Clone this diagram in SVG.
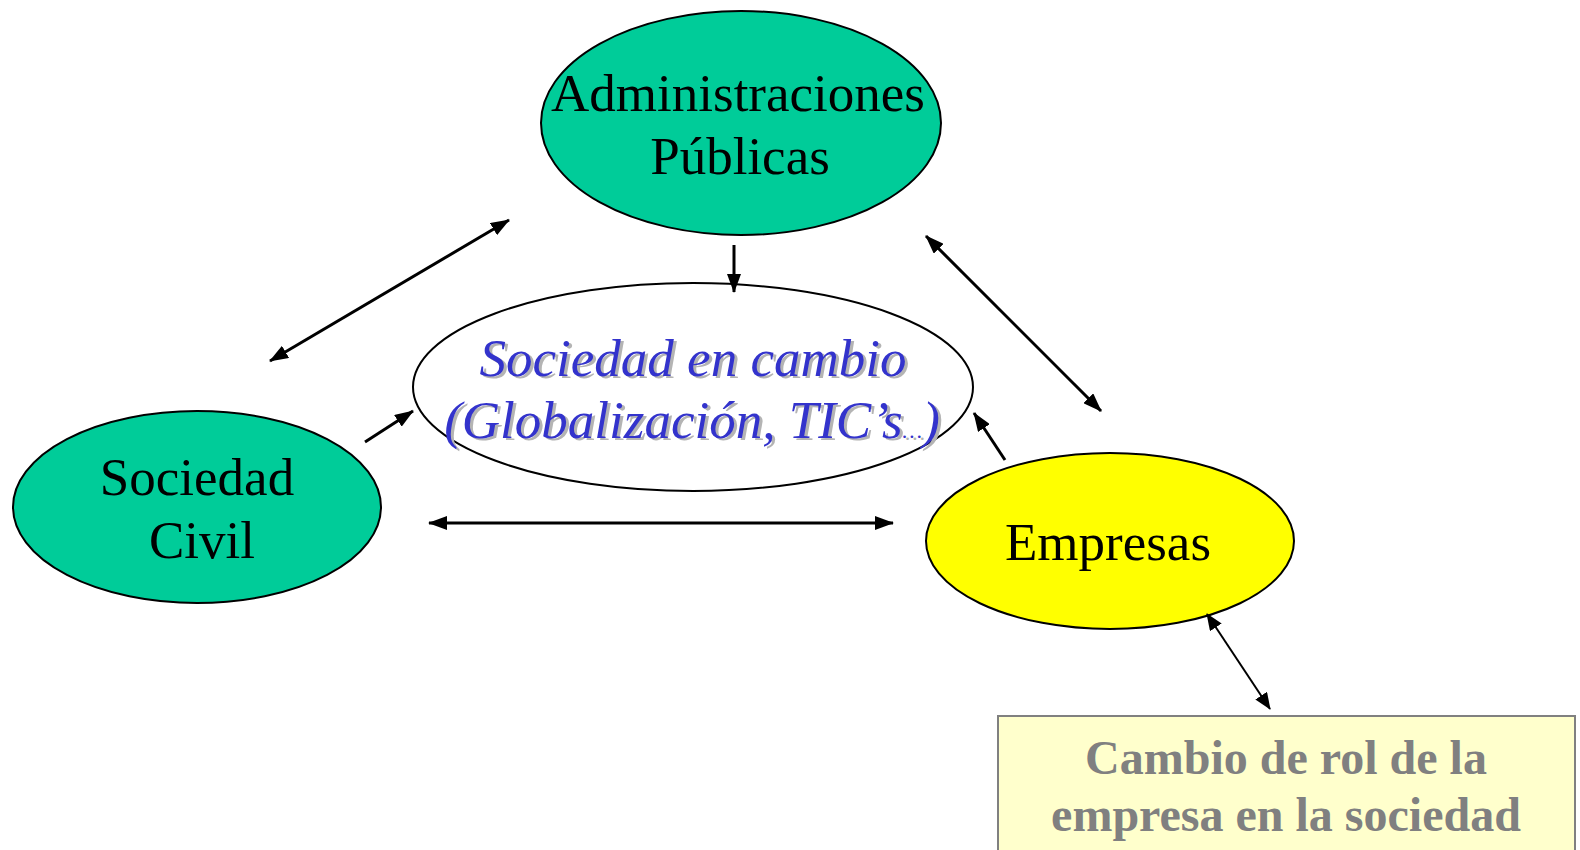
<svg xmlns="http://www.w3.org/2000/svg" width="1580" height="850" viewBox="0 0 1580 850">
<style>
.node{stroke:#000;stroke-width:2}
.green{fill:#00CC99}
.t{font-family:"Liberation Serif","Times New Roman",serif;font-size:53px;fill:#000;text-anchor:middle}
.it{font-family:"Liberation Serif","Times New Roman",serif;font-size:53px;font-style:italic;text-anchor:middle}
.blue{fill:#3333CC}
.shadow{fill:#B4B4B4}
.bx{font-family:"Liberation Serif","Times New Roman",serif;font-size:48px;font-weight:bold;fill:#808080;text-anchor:middle}
.c{stroke:#000;stroke-width:3;fill:none;marker-end:url(#ah);}
.cb{marker-start:url(#ah)}
.thin{stroke:#000;stroke-width:2;fill:none;marker-end:url(#ah2);marker-start:url(#ah2)}
</style>
<defs>
<marker id="ah" markerUnits="userSpaceOnUse" markerWidth="20" markerHeight="14" refX="18" refY="7" orient="auto-start-reverse" viewBox="0 0 20 14">
<path d="M0,0 L19,7 L0,14 z" fill="#000"/>
</marker>
<marker id="ah2" markerUnits="userSpaceOnUse" markerWidth="18" markerHeight="14" refX="16" refY="7" orient="auto-start-reverse" viewBox="0 0 18 14">
<path d="M0,0 L17,7 L0,14 z" fill="#000"/>
</marker>
</defs>
<rect width="1580" height="850" fill="#fff"/>
<g id="admin">
<ellipse class="node green" cx="741" cy="123" rx="200" ry="112"/>
<text class="t" x="738" y="111">Administraciones</text>
<text class="t" x="740" y="174">Públicas</text>
</g>
<g id="sociedad-cambio">
<ellipse class="node" fill="#fff" cx="693" cy="387" rx="280" ry="104"/>
<text class="it shadow" x="696" y="378">Sociedad en cambio</text>
<text class="it blue" x="693" y="376">Sociedad en cambio</text>
<text class="it shadow" x="695" y="440">(Globalización, TIC’s<tspan font-size="22">…</tspan>)</text>
<text class="it blue" x="692" y="438">(Globalización, TIC’s<tspan font-size="22">…</tspan>)</text>
</g>
<g id="sociedad-civil">
<ellipse class="node green" cx="197" cy="507" rx="184" ry="96"/>
<text class="t" x="197" y="495">Sociedad</text>
<text class="t" x="202" y="558">Civil</text>
</g>
<g id="empresas">
<ellipse class="node" fill="#FFFF00" cx="1110" cy="541" rx="184" ry="88"/>
<text class="t" x="1108" y="560">Empresas</text>
</g>
<g id="cambio-rol">
<rect x="998" y="716" width="577" height="140" fill="#FFFFCC" stroke="#808080" stroke-width="2"/>
<text class="bx" x="1286" y="774">Cambio de rol de la</text>
<text class="bx" x="1286" y="831">empresa en la sociedad</text>
</g>
<g id="connectors">
<line class="c cb" x1="270" y1="361" x2="509" y2="220"/>
<line class="c" x1="734" y1="245" x2="734" y2="292"/>
<line class="c cb" x1="926" y1="236" x2="1101" y2="411"/>
<line class="c" x1="365" y1="442" x2="413" y2="411"/>
<line class="c" x1="1005" y1="460" x2="974" y2="413"/>
<line class="c cb" x1="429" y1="523" x2="893" y2="523"/>
<line class="thin" x1="1207" y1="614" x2="1270" y2="709"/>
</g>
</svg>
